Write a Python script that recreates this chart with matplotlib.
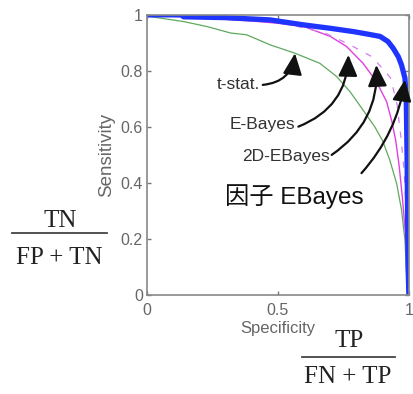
import matplotlib
matplotlib.use("Agg")
import matplotlib.pyplot as plt
from matplotlib.lines import Line2D

# ---- data ----
blue_x = [0.0, 0.13, 0.14, 0.30, 0.47, 0.60, 0.70, 0.79, 0.85, 0.89, 0.92, 0.94, 0.96, 0.972, 0.985, 0.99, 0.993, 0.995, 0.997, 1.0]
blue_y = [1.0, 1.0, 0.993, 0.99, 0.982, 0.964, 0.952, 0.94, 0.93, 0.923, 0.905, 0.881, 0.85, 0.821, 0.774, 0.70, 0.50, 0.30, 0.10, 0.0]

green_x = [0.0, 0.01, 0.14, 0.23, 0.32, 0.38, 0.47, 0.565, 0.66, 0.724, 0.775, 0.81, 0.84, 0.87, 0.90, 0.927, 0.953, 0.972, 0.985, 0.99, 0.995]
green_y = [1.0, 0.994, 0.976, 0.958, 0.935, 0.929, 0.893, 0.863, 0.827, 0.78, 0.726, 0.68, 0.64, 0.60, 0.55, 0.482, 0.399, 0.304, 0.196, 0.10, 0.0]

mag_x = [0.0, 0.2, 0.4, 0.5, 0.6, 0.7, 0.762, 0.825, 0.876, 0.915, 0.935, 0.95, 0.963, 0.975, 0.985, 0.993, 0.998]
mag_y = [1.0, 0.99, 0.978, 0.97, 0.958, 0.923, 0.887, 0.827, 0.762, 0.69, 0.62, 0.55, 0.46, 0.35, 0.24, 0.12, 0.0]

mag2_x = [0.0, 0.3, 0.5, 0.68, 0.775, 0.86, 0.93, 0.955, 0.97, 0.982, 0.99, 0.996, 1.0]
mag2_y = [1.0, 0.99, 0.975, 0.935, 0.893, 0.85, 0.775, 0.68, 0.56, 0.44, 0.30, 0.15, 0.0]

x_ticks = [0, 0.5, 1]
x_tick_labels = ["0", "0.5", "1"]
y_ticks = [0, 0.2, 0.4, 0.6, 0.8, 1]
y_tick_labels = ["0", "0.2", "0.4", "0.6", "0.8", "1"]

labels = ["t-stat.", "E-Bayes", "2D-EBayes", "因子 EBayes"]
label_pos = [(0.351, 0.75), (0.441, 0.607), (0.530, 0.494), (0.561, 0.352)]
arrow_tail = [(0.442, 0.75), (0.578, 0.601), (0.705, 0.50), (0.819, 0.435)]
arrow_tip = [(0.565, 0.863), (0.769, 0.857), (0.876, 0.821), (0.985, 0.768)]
arrow_rad = [0.4, 0.33, 0.28, 0.15]

plt.rcParams['font.family'] = ['Liberation Sans', 'Noto Sans CJK SC', 'DejaVu Sans']

fig = plt.figure(figsize=(4.13, 3.94), dpi=100)
ax = fig.add_axes([0.356, 0.2513, 0.634, 0.711])

ax.plot(green_x, green_y, color="#5fa85f", lw=0.9)
ax.plot(mag_x, mag_y, color="#e040e0", lw=1.0)
ax.plot(mag2_x, mag2_y, color="#d080ec", lw=0.9, ls=(0, (5, 7)))
ax.plot(blue_x, blue_y, color="#1f35ff", lw=3.8, solid_capstyle="butt")

ax.set_xlim(0, 1)
ax.set_ylim(0, 1)
ax.set_xticks(x_ticks)
ax.set_xticklabels(x_tick_labels)
ax.set_yticks(y_ticks)
ax.set_yticklabels(y_tick_labels)
ax.tick_params(direction="in", length=3, width=1, colors="#777777",
               labelcolor="#666666", labelsize=11.5)
ax.tick_params(axis="x", pad=6)
ax.tick_params(axis="y", pad=3)
ax.tick_params(top=True, right=True)
for s in ax.spines.values():
    s.set_color("#888888")
    s.set_linewidth(1.2)

ax.set_xlabel("Specificity", fontsize=12, color="#666666", labelpad=2)
ax.set_ylabel("Sensitivity", fontsize=13.5, color="#666666", labelpad=4)

for i, lab in enumerate(labels):
    fs = 17.5 if i == 3 else 12.5
    col = "#111111" if i == 3 else "#333333"
    ax.text(label_pos[i][0], label_pos[i][1], lab, fontsize=fs, color=col,
            ha="center", va="center")
    ax.annotate("", xy=arrow_tip[i], xytext=arrow_tail[i],
                arrowprops=dict(arrowstyle="-|>,head_length=1.0,head_width=0.45",
                                mutation_scale=13, color="#111111", lw=1.6,
                                shrinkA=0, shrinkB=0,
                                connectionstyle="arc3,rad=%g" % arrow_rad[i]))

serif = ['Liberation Serif', 'DejaVu Serif']
# left fraction
fig.text(0.145, 0.4239, "TN", fontsize=18, family=serif, ha="center", va="baseline", color="#222222")
fig.add_artist(Line2D([0.029, 0.259], [0.4086, 0.4086], color="#444444", lw=1.3, transform=fig.transFigure))
fig.text(0.143, 0.3299, "FP + TN", fontsize=18, family=serif, ha="center", va="baseline", color="#222222")
# bottom fraction
fig.text(0.845, 0.1193, "TP", fontsize=18, family=serif, ha="center", va="baseline", color="#222222")
fig.add_artist(Line2D([0.731, 0.956], [0.0939, 0.0939], color="#444444", lw=1.3, transform=fig.transFigure))
fig.text(0.843, 0.0279, "FN + TP", fontsize=18, family=serif, ha="center", va="baseline", color="#222222")

fig.savefig("out.png", dpi=100)
